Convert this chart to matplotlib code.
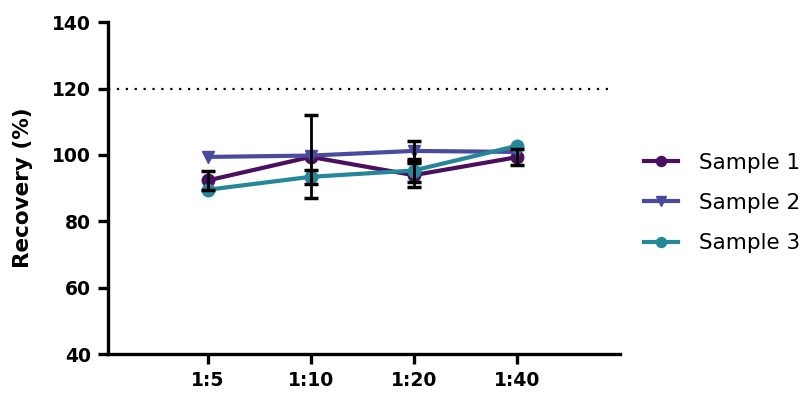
import numpy as np
import matplotlib.pyplot as plt

plt.rcParams['font.family'] = ['DejaVu Sans']

dilutions = ['1:5', '1:10', '1:20', '1:40']
sample1 = [92.3, 99.4, 93.9, 99.3]
sample1_err = [3.0, 12.5, 3.6, 2.4]
sample2 = [99.4, 99.8, 101.2, 100.9]
sample2_err = [0.0, 0.0, 3.0, 0.0]
sample3 = [89.5, 93.4, 95.3, 102.7]
sample3_err = [0.0, 2.2, 3.4, 0.0]

names = ['Sample 1', 'Sample 2', 'Sample 3']
colors = ['#4a0f5e', '#4a4a9e', '#24879a']
markers = ['o', 'v', 'o']


def run():
    fig = plt.figure(figsize=(8.1, 3.96), dpi=100)
    ax = fig.add_axes([0.133, 0.106, 0.632, 0.838])
    x = np.arange(1, len(dilutions) + 1)

    # 120% reference line
    ax.axhline(120, color='black', linestyle=(0, (1, 3)), linewidth=1.6,
               xmin=0.0, xmax=0.98, zorder=1)

    series = [(sample1, sample1_err), (sample2, sample2_err), (sample3, sample3_err)]
    for (y, err), name, c, m in zip(series, names, colors, markers):
        ax.plot(x, y, color=c, linewidth=3, marker=m, markersize=9,
                label=name, zorder=3)
    for y, err in series[::-1]:
        err = np.array(err)
        keep = err > 0
        ax.errorbar(x[keep], np.array(y)[keep], yerr=err[keep], fmt='none',
                    ecolor='black', elinewidth=2, capsize=5, capthick=2.5,
                    zorder=4)

    ax.set_xlim(0.03, 5.0)
    ax.set_ylim(40, 140)
    ax.set_yticks([40, 60, 80, 100, 120, 140])
    ax.set_xticks(x)
    ax.set_xticklabels(dilutions)
    ax.set_ylabel('Recovery (%)', fontsize=15.5, fontweight='bold', labelpad=14)

    for s in ['top', 'right']:
        ax.spines[s].set_visible(False)
    for s in ['left', 'bottom']:
        ax.spines[s].set_linewidth(2.4)
    ax.tick_params(direction='out', length=7, width=2.4, labelsize=13.5, pad=5)
    for lab in ax.get_xticklabels() + ax.get_yticklabels():
        lab.set_fontweight('bold')

    ax.legend(loc='center left', bbox_to_anchor=(1.009, 0.455), frameon=False,
              fontsize=15.5, handlelength=1.6, labelspacing=0.95,
              handletextpad=0.95, markerscale=0.8)

    fig.savefig('out.png', dpi=100)


run()
